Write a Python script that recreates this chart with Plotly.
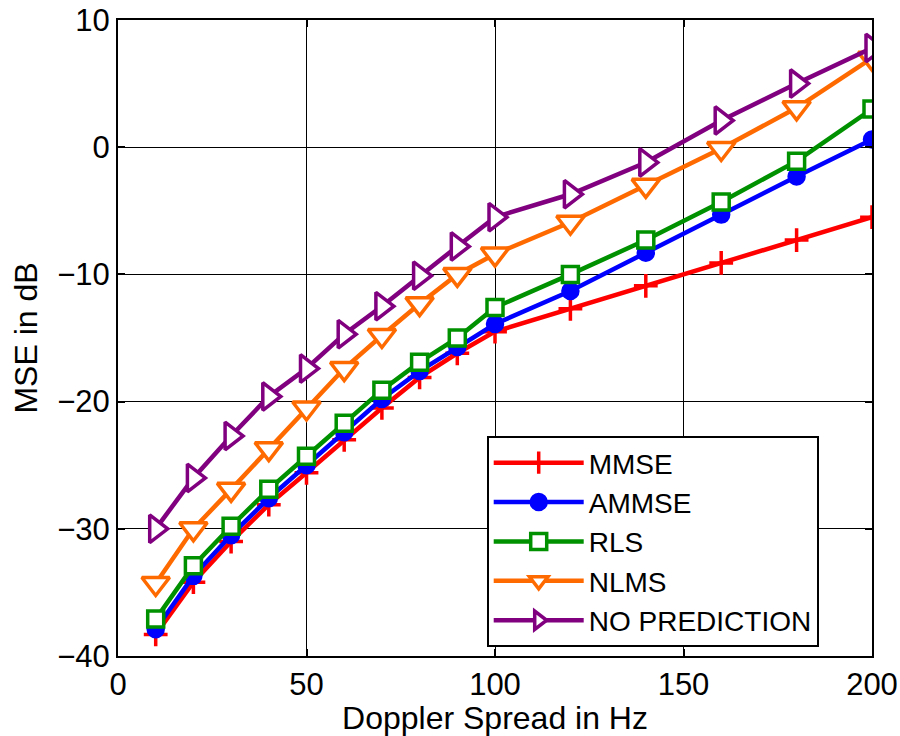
import plotly.graph_objects as go

doppler_hz = [10, 20, 30, 40, 50, 60, 70, 80, 90, 100, 120, 140, 160, 180, 200]

mse_mmse = [-38.3, -34.2, -31.0, -28.1, -25.6, -23.0, -20.5, -18.1, -16.2, -14.5,
            -12.7, -10.9, -9.1, -7.3, -5.5]
mse_ammse = [-37.9, -33.7, -30.5, -27.6, -25.0, -22.4, -19.8, -17.6, -15.7, -13.9,
             -11.3, -8.3, -5.3, -2.3, 0.6]
mse_rls = [-37.1, -32.9, -29.8, -26.9, -24.3, -21.7, -19.1, -16.9, -15.0, -12.6,
           -10.0, -7.3, -4.3, -1.1, 3.0]
mse_nlms = [-34.3, -30.0, -26.9, -23.7, -20.5, -17.4, -14.8, -12.3, -10.0, -8.4,
            -5.9, -3.0, -0.1, 3.1, 7.0]
mse_nopred = [-30.0, -26.0, -22.7, -19.6, -17.4, -14.7, -12.5, -10.1, -7.8, -5.5,
              -3.7, -1.2, 2.1, 5.0, 7.8]

x_ticks = [0, 50, 100, 150, 200]
y_ticks = [-40, -30, -20, -10, 0, 10]
y_tick_text = ["\u221240", "\u221230", "\u221220", "\u221210", "0", "10"]

series = [
    ("MMSE", mse_mmse, "#ff0000", "cross-thin", 17, "#ff0000"),
    ("AMMSE", mse_ammse, "#0000ff", "circle", 15, "#0000ff"),
    ("RLS", mse_rls, "#009100", "square", 16, "white"),
    ("NLMS", mse_nlms, "#ff6a00", "triangle-down", 24, "white"),
    ("NO PREDICTION", mse_nopred, "#800080", "triangle-right", 24, "white"),
]

FONT = "Liberation Sans, Arial"

fig = go.Figure()
for name, vals, color, sym, size, fill in series:
    fig.add_trace(go.Scatter(
        x=doppler_hz, y=vals, name=name, mode="lines+markers",
        line=dict(color=color, width=4.5),
        marker=dict(symbol=sym, size=size, color=fill,
                    line=dict(color=color, width=3.5)),
    ))

axis_common = dict(
    showline=True, linecolor="black", linewidth=2, mirror="ticks",
    showgrid=True, gridcolor="black", gridwidth=1,
    ticks="inside", ticklen=7, tickcolor="black", tickwidth=1.5,
    zeroline=False, automargin=False,
    tickfont=dict(family=FONT, size=31, color="black"),
    title_font=dict(family=FONT, size=32, color="black"),
)

fig.update_xaxes(range=[0, 200], tickvals=x_ticks,
                 title_text="Doppler Spread in Hz", title_standoff=2, **axis_common)
fig.update_yaxes(range=[-40, 10], tickvals=y_ticks, ticktext=y_tick_text,
                 title_text="MSE in dB", title_standoff=10, **axis_common)

fig.update_layout(
    width=900, height=736,
    margin=dict(l=118, r=28, t=20, b=80),
    plot_bgcolor="white", paper_bgcolor="white",
    font=dict(family=FONT, color="black"),
    legend=dict(
        x=0.489, y=0.346, xanchor="left", yanchor="top",
        bgcolor="white", bordercolor="black", borderwidth=2,
        font=dict(family=FONT, size=28, color="black"),
        itemwidth=90, tracegroupgap=0,
    ),
)

fig.write_html("out.html")
